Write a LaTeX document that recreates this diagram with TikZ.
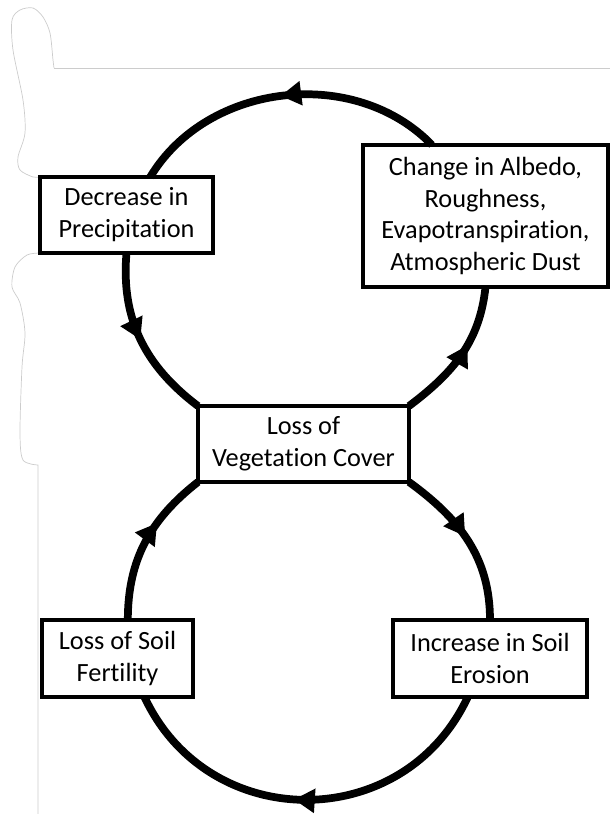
\documentclass[tikz,border=0pt]{standalone}
\usepackage{fontspec}
\setmainfont{Carlito}[Ligatures=NoCommon]
\usetikzlibrary{arrows.meta,decorations.markings}

\begin{document}
\begin{tikzpicture}[x=0.025cm, y=-0.025cm, outer sep=0pt,
  box/.style={draw, line width=2.3pt, fill=white, align=center, inner sep=0pt,
    font=\fontsize{18.7}{22.7}\selectfont},
  feedback/.style={line width=5.5pt},
  mid arrow/.style={postaction={decorate}, decoration={markings,
    mark=at position #1 with {\arrow{Triangle[length=0.52cm, width=0.58cm]}}}},
  scan/.style={gray!40, line width=0.5pt}]

\useasboundingbox (0,0) rectangle (610,814);

% faint page outline
\draw[scan] (54,68) -- (610,68);
\draw[scan] plot[smooth] coordinates {(54,68) (53,60) (50,33) (43,17) (33,8) (20,10) (12,20)
  (13,50) (23,100) (25,133) (18,157) (20,170) (33,177) (40,177)};
\draw[scan] plot[smooth] coordinates {(40,253) (27,255) (15,267) (12,287) (20,303) (25,333)
  (22,367) (20,433) (23,460) (38,465)} -- (38,814);

\node[box, minimum width=4.325cm, minimum height=1.9cm] at (126.5, 215) (PRECIP) {Decrease in\\Precipitation};
\node[box, minimum width=6.125cm, minimum height=3.55cm] at (485.5, 216) (ALBEDO) {Change in Albedo,\\Roughness,\\Evapotranspiration,\\Atmospheric Dust};
\node[box, minimum width=5.275cm, minimum height=1.9cm] at (303.5, 444) (VEG) {Loss of\\Vegetation Cover};
\node[box, minimum width=3.775cm, minimum height=1.925cm] at (117.5, 658.5) (FERTILITY) {Loss of Soil\\Fertility};
\node[box, minimum width=4.85cm, minimum height=1.925cm] at (490, 658.5) (EROSION) {Increase in Soil\\Erosion};

    % upper loop
    \draw [feedback, mid arrow=0.51] (ALBEDO.127) to[out=134, in=59] (PRECIP.58);
    \draw [feedback, mid arrow=0.5] (PRECIP.south) to[out=265, in=143] (VEG.north west);
    \draw [feedback, mid arrow=0.58] (VEG.north east) to[out=37, in=264] (ALBEDO.south);
    % lower loop
    \draw [feedback, mid arrow=0.47] (VEG.south east) to[out=-36, in=90] (EROSION.north);
    \draw [feedback, mid arrow=0.53, looseness=1.2] (EROSION.240) to[out=-115, in=-65] (FERTILITY.305);
    \draw [feedback, mid arrow=0.64] (FERTILITY.75) to[out=90, in=218] (VEG.south west);
\end{tikzpicture}
\end{document}
